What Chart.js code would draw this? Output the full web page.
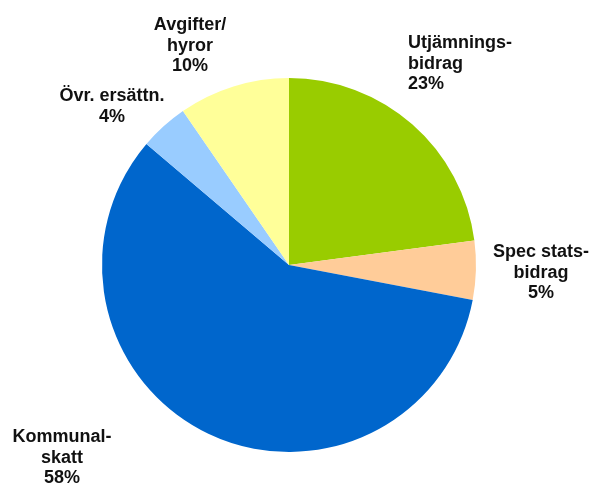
<!DOCTYPE html>
<html>
<head>
<meta charset="utf-8">
<script src="https://cdn.jsdelivr.net/npm/chart.js@4"></script>
<style>
html,body{margin:0;padding:0;background:#fff;}
#wrap{width:593px;height:486px;}
</style>
</head>
<body>
<div id="wrap"><canvas id="c" width="593" height="486"></canvas></div>
<script>
// Data
const categories = ["Utjämningsbidrag", "Spec statsbidrag", "Kommunalskatt", "Övr. ersättn.", "Avgifter/hyror"];
const labelLines = [["Utjämnings-", "bidrag"], ["Spec stats-", "bidrag"], ["Kommunal-", "skatt"], ["Övr. ersättn."], ["Avgifter/", "hyror"]];
const values = [22.9, 5.1, 58.2, 4.2, 9.6];
const colors = ["#99CC00", "#FFCC99", "#0066CC", "#99CCFF", "#FFFF99"];

// Label layout (first-line baseline, alignment)
const labelLayout = [
  {x: 408, y: 48, align: "left"},
  {x: 541, y: 257, align: "center"},
  {x: 62, y: 442, align: "center"},
  {x: 112, y: 101, align: "center"},
  {x: 190, y: 30, align: "center"}
];

const labelPlugin = {
  id: "pieLabels",
  afterDraw(chart) {
    const ctx = chart.ctx;
    const total = values.reduce((a, b) => a + b, 0);
    ctx.save();
    ctx.font = "bold 18px 'Liberation Sans', Arial, sans-serif";
    ctx.fillStyle = "#111";
    ctx.textBaseline = "alphabetic";
    const lh = 20.5;
    labelLines.forEach((lines, i) => {
      const L = labelLayout[i];
      ctx.textAlign = L.align;
      const all = lines.concat([Math.round(values[i] / total * 100) + "%"]);
      all.forEach((t, j) => ctx.fillText(t, L.x, L.y + j * lh));
    });
    ctx.restore();
  }
};

new Chart(document.getElementById("c"), {
  type: "pie",
  data: {
    labels: categories,
    datasets: [{
      data: values,
      backgroundColor: colors,
      borderWidth: 0
    }]
  },
  options: {
    responsive: false,
    animation: false,
    layout: {padding: {top: 78, bottom: 34, left: 102, right: 117}},
    plugins: {legend: {display: false}, tooltip: {enabled: false}}
  },
  plugins: [labelPlugin]
});
</script>
</body>
</html>
